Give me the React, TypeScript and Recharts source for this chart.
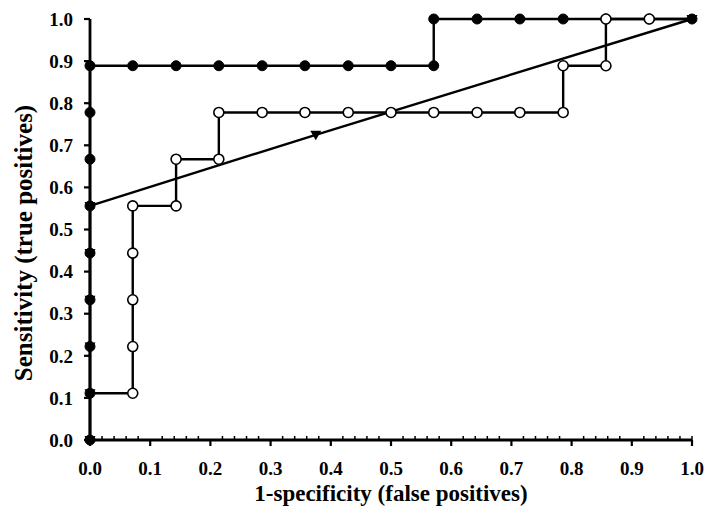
import React from 'react';
import { LineChart, Line, XAxis, YAxis, Label } from 'recharts';

// ROC curves
const filledX = [0, 0, 0, 0, 0, 0, 0, 0, 0, 0.071, 0.143, 0.214, 0.286, 0.357, 0.429, 0.5, 0.571, 0.571, 0.643, 0.714, 0.786, 0.857, 0.929, 1.0];
const filledY = [0, 0.111, 0.222, 0.333, 0.444, 0.556, 0.667, 0.778, 0.889, 0.889, 0.889, 0.889, 0.889, 0.889, 0.889, 0.889, 0.889, 1.0, 1.0, 1.0, 1.0, 1.0, 1.0, 1.0];

const openX = [0, 0.071, 0.071, 0.071, 0.071, 0.071, 0.143, 0.143, 0.214, 0.214, 0.286, 0.357, 0.429, 0.5, 0.571, 0.643, 0.714, 0.786, 0.786, 0.857, 0.857, 0.929, 1.0];
const openY = [0.111, 0.111, 0.222, 0.333, 0.444, 0.556, 0.556, 0.667, 0.667, 0.778, 0.778, 0.778, 0.778, 0.778, 0.778, 0.778, 0.778, 0.778, 0.889, 0.889, 1.0, 1.0, 1.0];

const triX = [0, 0, 0, 0, 0, 0, 0.375, 1.0];
const triY = [0, 0.111, 0.222, 0.333, 0.444, 0.556, 0.725, 1.0];

const xMajorTicks = [0, 0.1, 0.2, 0.3, 0.4, 0.5, 0.6, 0.7, 0.8, 0.9, 1.0];
const xMinorTicks = [
  0.02, 0.04, 0.06, 0.08, 0.12, 0.14, 0.16, 0.18, 0.22, 0.24, 0.26, 0.28,
  0.32, 0.34, 0.36, 0.38, 0.42, 0.44, 0.46, 0.48, 0.52, 0.54, 0.56, 0.58,
  0.62, 0.64, 0.66, 0.68, 0.72, 0.74, 0.76, 0.78, 0.82, 0.84, 0.86, 0.88,
  0.92, 0.94, 0.96, 0.98, 1.0,
];
const yTicks = [0, 0.1, 0.2, 0.3, 0.4, 0.5, 0.6, 0.7, 0.8, 0.9, 1.0];

const toPoints = (xs: number[], ys: number[]) => xs.map((x, i) => ({ x, y: ys[i] }));
const filledData = toPoints(filledX, filledY);
const openData = toPoints(openX, openY);
const triData = toPoints(triX, triY);

const xTicks = Array.from(new Set([...xMajorTicks, ...xMinorTicks])).sort((a, b) => a - b);

const FONT = '"Liberation Serif", "Times New Roman", serif';
const has = (arr: number[], v: number) => arr.some((t) => Math.abs(t - v) < 1e-6);

const XTick = ({ x, y, payload }: any) => {
  const v = payload.value;
  const major = has(xMajorTicks, v);
  const minor = has(xMinorTicks, v);
  return (
    <g>
      {major && <line x1={x} x2={x} y1={y} y2={y + 6} stroke="#000" strokeWidth={2.2} />}
      {minor && <line x1={x} x2={x} y1={y} y2={y - 4} stroke="#000" strokeWidth={1.5} />}
      {major && (
        <text x={x} y={y + 35} textAnchor="middle" fontFamily={FONT} fontWeight="bold" fontSize={19} fill="#000">
          {v.toFixed(1)}
        </text>
      )}
    </g>
  );
};

const filledDot = (props: any) => {
  const { cx, cy, index } = props;
  return <circle key={`f${index}`} cx={cx} cy={cy} r={5} fill="#000" stroke="#000" />;
};

const openDot = (props: any) => {
  const { cx, cy, index, payload } = props;
  if (payload.x === 0 || payload.x === 1) return <g key={`o${index}`} />;
  return <circle key={`o${index}`} cx={cx} cy={cy} r={5} fill="#fff" stroke="#000" strokeWidth={1.6} />;
};

const triDot = (props: any) => {
  const { cx, cy, index } = props;
  return (
    <polygon
      key={`t${index}`}
      points={`${cx - 5.5},${cy - 4} ${cx + 5.5},${cy - 4} ${cx},${cy + 5.5}`}
      fill="#000"
    />
  );
};

const yTitle = () => (
  <text
    transform="translate(23,243) rotate(-90)"
    textAnchor="middle"
    dominantBaseline="central"
    fontFamily={FONT}
    fontWeight="bold"
    fontSize={25}
    fill="#000"
  >
    Sensitivity (true positives)
  </text>
);

const xTitle = () => (
  <text x={391} y={501} textAnchor="middle" fontFamily={FONT} fontWeight="bold" fontSize={23} fill="#000">
    1-specificity (false positives)
  </text>
);

export default function App() {
  return (
    <div style={{ position: 'absolute', left: 0, top: 0, background: '#fff' }}>
      <LineChart width={714} height={524} margin={{ top: 19, right: 22, left: 0, bottom: 24 }}>
        <XAxis
          dataKey="x"
          type="number"
          domain={[0, 1]}
          ticks={xTicks}
          interval={0}
          tick={<XTick />}
          tickLine={false}
          tickSize={0}
          tickMargin={0}
          height={60}
          axisLine={{ stroke: '#000', strokeWidth: 2.8 }}
        >
          <Label content={xTitle} />
        </XAxis>
        <YAxis
          type="number"
          domain={[0, 1]}
          ticks={yTicks}
          interval={0}
          width={90}
          tickSize={6}
          tickMargin={11}
          tickFormatter={(v: number) => v.toFixed(1)}
          tick={{ fill: '#000', fontFamily: FONT, fontWeight: 'bold', fontSize: 19 }}
          tickLine={{ stroke: '#000', strokeWidth: 2.2 }}
          axisLine={{ stroke: '#000', strokeWidth: 2.8 }}
        >
          <Label content={yTitle} />
        </YAxis>
        <Line data={filledData} dataKey="y" stroke="#000" strokeWidth={2.4} dot={filledDot} activeDot={false} isAnimationActive={false} />
        <Line data={openData} dataKey="y" stroke="#000" strokeWidth={2.4} dot={openDot} activeDot={false} isAnimationActive={false} />
        <Line data={triData} dataKey="y" stroke="#000" strokeWidth={2.4} dot={triDot} activeDot={false} isAnimationActive={false} />
      </LineChart>
    </div>
  );
}
